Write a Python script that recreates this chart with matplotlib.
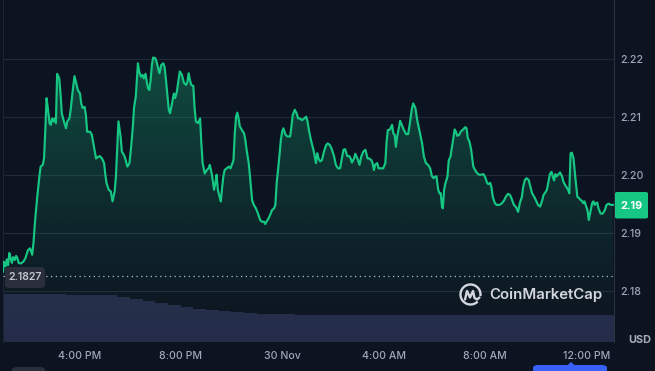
import numpy as np
import matplotlib
matplotlib.use("Agg")
import matplotlib.pyplot as plt
from matplotlib.patches import FancyBboxPatch, Arc, Polygon
from matplotlib.colors import to_rgb

# ---------------- data (minutes since 29 Nov 1:00 PM, price in USD) ----------------
minutes = [0, 2, 6, 9, 12, 15, 18, 21, 24, 28, 31, 34, 37, 42, 48, 53, 59, 64, 69, 72,
           76, 81, 86, 89, 94, 97, 100, 103, 106, 110, 113, 116, 119, 122, 125, 128, 133, 136, 139, 144,
           149, 152, 157, 160, 165, 169, 173, 177, 182, 185, 188, 193, 196, 199, 206, 210, 215, 220, 225,
           229, 234, 239, 242, 245, 250, 255, 259, 264, 267, 270, 273, 278, 281, 286, 289, 294, 299, 303,
           307, 310, 314, 319, 322, 326, 330, 333, 337, 340, 343, 346, 349, 352, 355, 360, 363, 367, 370,
           374, 379, 382, 385, 389, 392, 395, 398, 401, 404, 407, 411, 414, 418, 423, 428, 433, 436, 439,
           442, 445, 450, 453, 456, 461,
           466, 469, 472, 477, 482, 486, 489, 494, 499, 502, 505, 508, 512, 515, 518, 521, 524, 529, 534,
           538, 541, 545, 548, 551, 554, 557, 560, 565, 570, 573, 576, 581, 584, 589, 593, 598, 603, 608,
           612, 617, 620, 623, 628, 633, 636, 641, 644, 647, 652, 657, 660, 663, 668, 672, 679, 682, 685,
           690, 694, 698,
           702, 707, 712, 717, 720, 724, 729, 734, 737, 740, 743, 746, 750, 754, 759, 764, 768, 773, 778,
           783, 787, 792, 797, 802, 805, 809, 814, 819, 822, 825, 830, 833, 838, 843, 847, 852, 857, 862,
           866, 871, 874, 877, 880, 885, 888, 893, 899, 904, 907, 910, 915, 920, 923, 926, 929, 932, 937,
           939, 943, 948, 953, 958, 962, 967, 970, 975, 980, 986, 991, 995, 1000, 1005, 1010, 1014, 1018,
           1022, 1025, 1029, 1032, 1035, 1038, 1040, 1043, 1046, 1051, 1054, 1058, 1063, 1068, 1071, 1074,
           1079, 1082, 1088, 1093, 1096, 1099, 1103, 1107, 1112, 1117, 1122, 1126, 1131, 1136, 1140, 1145,
           1148, 1152, 1155, 1158, 1163, 1167, 1174,
           1180, 1185, 1189, 1194, 1199, 1204, 1208, 1213, 1218, 1222, 1227, 1230, 1234, 1238, 1243, 1246,
           1251, 1256, 1260, 1265, 1270, 1275, 1278, 1282, 1286, 1289, 1293, 1297, 1300, 1303, 1306, 1309,
           1314, 1317, 1322, 1325, 1330, 1333, 1336, 1339, 1342, 1345, 1349, 1353, 1358, 1363, 1366, 1369,
           1372, 1375, 1379, 1382, 1385, 1388, 1393, 1396, 1399, 1402, 1405, 1408, 1413, 1418, 1423, 1427,
           1432, 1437, 1442]

prices = [2.1834, 2.1851, 2.1843, 2.1855, 2.1845, 2.1866, 2.1857, 2.1849, 2.1859, 2.1854, 2.1861,
          2.1857, 2.1849, 2.1848, 2.1851, 2.1857, 2.1871, 2.1874, 2.1863, 2.1883,
          2.1923, 2.1963, 2.1998, 2.2015, 2.2018, 2.2029, 2.2078, 2.2133, 2.2116, 2.2090, 2.2087, 2.2098,
          2.2093, 2.2098, 2.2090, 2.2175, 2.2167, 2.2141, 2.2107, 2.2093,
          2.2081, 2.2093, 2.2098, 2.2113, 2.2147, 2.2171, 2.2159, 2.2147, 2.2141, 2.2124, 2.2116, 2.2118,
          2.2104, 2.2075, 2.2075, 2.2070, 2.2049, 2.2029, 2.2032,
          2.2033, 2.2029, 2.2021, 2.2001, 2.1986, 2.1975, 2.1972, 2.1955, 2.1972, 2.1998, 2.2044, 2.2093,
          2.2067, 2.2041, 2.2035, 2.2029, 2.2015, 2.2021, 2.2049,
          2.2084, 2.2118, 2.2136, 2.2193, 2.2179, 2.2170, 2.2173, 2.2167, 2.2175, 2.2161, 2.2150, 2.2147,
          2.2164, 2.2190, 2.2203, 2.2202, 2.2196, 2.2184, 2.2176,
          2.2190, 2.2193, 2.2187, 2.2167, 2.2136, 2.2113, 2.2107, 2.2118, 2.2130, 2.2141, 2.2133, 2.2144,
          2.2159, 2.2179, 2.2173, 2.2159, 2.2156, 2.2161, 2.2176,
          2.2164, 2.2156, 2.2154, 2.2116, 2.2093, 2.2090,
          2.2098, 2.2055, 2.2021, 2.2003, 2.2009, 2.2012, 2.2018, 2.2001, 2.1975, 2.1986, 2.2001, 2.1975,
          2.1963, 2.1955, 2.1978, 2.1998, 2.2009, 2.2012, 2.2015,
          2.2012, 2.2018, 2.2026, 2.2072, 2.2101, 2.2108, 2.2098, 2.2084, 2.2078, 2.2072, 2.2061, 2.2044,
          2.2021, 2.1998, 2.1957, 2.1949, 2.1943, 2.1934, 2.1923,
          2.1920, 2.1920, 2.1916, 2.1920, 2.1926, 2.1934, 2.1940, 2.1943, 2.1949, 2.1986, 2.2021, 2.2061,
          2.2075, 2.2081, 2.2070, 2.2067, 2.2067, 2.2084, 2.2104,
          2.2113, 2.2107, 2.2098,
          2.2098, 2.2095, 2.2098, 2.2101, 2.2093, 2.2075, 2.2058, 2.2044, 2.2033, 2.2021, 2.2038, 2.2029,
          2.2024, 2.2026, 2.2041, 2.2052, 2.2055, 2.2052, 2.2044,
          2.2032, 2.2018, 2.2012, 2.2012, 2.2032, 2.2044, 2.2045, 2.2033, 2.2033, 2.2029, 2.2022, 2.2029,
          2.2037, 2.2029, 2.2018, 2.2032, 2.2041, 2.2044, 2.2029,
          2.2029, 2.2026, 2.2021, 2.2009, 2.2018, 2.2021, 2.2012, 2.2012, 2.2012, 2.2021, 2.2058, 2.2078,
          2.2079, 2.2087, 2.2072, 2.2070, 2.2049, 2.2067, 2.2085,
          2.2094, 2.2087, 2.2078, 2.2071, 2.2071, 2.2090, 2.2116, 2.2124, 2.2116, 2.2093, 2.2072, 2.2055,
          2.2033, 2.2021, 2.2018, 2.2012, 2.1999, 2.1995,
          2.1998, 2.1998, 2.1975, 2.1969, 2.1969, 2.1946, 2.1943, 2.1975, 2.1986, 2.1998, 2.2026, 2.2032,
          2.2055, 2.2079, 2.2075, 2.2068,
          2.2070, 2.2075, 2.2079, 2.2083, 2.2081, 2.2064, 2.2058, 2.2044, 2.2015, 2.2008, 2.2003, 2.2001,
          2.2001, 2.2002, 2.1997, 2.1986,
          2.1985, 2.1987, 2.1979, 2.1963, 2.1952, 2.1949, 2.1949,
          2.1952, 2.1957, 2.1963, 2.1968, 2.1966, 2.1957, 2.1949, 2.1945, 2.1937, 2.1952, 2.1963, 2.1980,
          2.1992, 2.1995, 2.1992, 2.1983,
          2.1969, 2.1963, 2.1957, 2.1949, 2.1946, 2.1957, 2.1966, 2.1970, 2.1975, 2.1986, 2.2002, 2.2006,
          2.1998, 2.1991, 2.2002, 2.1998,
          2.2002, 2.2005, 2.1998, 2.1989, 2.1982, 2.1979, 2.1975, 2.1969, 2.2038, 2.2039, 2.2029, 2.1998,
          2.1963, 2.1960, 2.1957, 2.1956,
          2.1952, 2.1955, 2.1946, 2.1940, 2.1923, 2.1934, 2.1952, 2.1955, 2.1949, 2.1952, 2.1953, 2.1943,
          2.1934, 2.1934, 2.1940, 2.1949,
          2.1951, 2.1949, 2.1949]

# volume read every half hour (arbitrary units, millions)
volume_minutes = [0, 30, 60, 90, 120, 150, 180, 210, 240, 270, 300, 330, 360, 390, 420, 450, 480,
                  510, 540, 570, 600, 630, 660, 690, 720, 750, 780, 810, 840, 870, 900, 930, 960,
                  990, 1020, 1050, 1080, 1110, 1140, 1170, 1200, 1230, 1260, 1290, 1320, 1350,
                  1380, 1410, 1440]
volume_m = [97, 96.5, 96, 96, 95.5, 95, 95, 95, 94, 91, 87, 83, 79, 74, 70, 67, 64,
            62, 60, 58.5, 57, 56, 55.5, 55, 55, 54.5, 54.5, 54, 54, 54, 54, 54, 54,
            54, 54, 54, 54, 54, 54, 54, 54, 54, 54, 54, 54, 53.5,
            53.5, 54, 54]

y_ticks = [2.18, 2.19, 2.20, 2.21, 2.22]
x_tick_minutes = [180, 420, 660, 900, 1140, 1380]
x_tick_labels = ["4:00 PM", "8:00 PM", "30 Nov", "4:00 AM", "8:00 AM", "12:00 PM"]
open_price = 2.1827
open_label = "2.1827"
last_label = "2.19"

# ---------------- styling ----------------
BG = "#0d1421"
GRID = "#222a38"
GREEN = "#16c784"
TICK = "#a1a7bb"
FONT = ["Inter", "DejaVu Sans"]
plt.rcParams["font.family"] = FONT

W, H = 655, 371
fig = plt.figure(figsize=(W / 100, H / 100), dpi=100, facecolor=BG)


def fx(px):
    return px / W


def fy(py):
    return 1 - py / H


L, R, T, B = 2.5, 614, 0, 342
ylo, yhi = 2.171259, 2.230224
xlo, xhi = -1.2, 1444.7

# volume axes (behind)
axv = fig.add_axes([fx(L), fy(B), fx(R) - fx(L), (B - 293.5) / H], zorder=0)
axv.set_facecolor(BG)
axv.bar(volume_minutes, volume_m, width=30, align="edge",
        color="#252c49", edgecolor="none")
axv.set_xlim(xlo, xhi)
axv.set_ylim(0, 97)
axv.axis("off")

# main axes
ax = fig.add_axes([fx(L), fy(B), fx(R) - fx(L), fy(T) - fy(B)], zorder=1)
ax.set_facecolor("none")
ax.set_xlim(xlo, xhi)
ax.set_ylim(ylo, yhi)

for v in y_ticks:
    ax.axhline(v, color=GRID, lw=0.8, zorder=1)

# gradient fill under the line
x = np.array(minutes, dtype=float)
y = np.array(prices)
poly_verts = np.vstack([np.column_stack([x, y]), [[x[-1], ylo], [x[0], ylo]]])
poly = Polygon(poly_verts, closed=True, facecolor="none", edgecolor="none")
ax.add_patch(poly)
g = np.linspace(0, 1, 256).reshape(-1, 1)
rgba = np.zeros((256, 1, 4))
rgba[..., :3] = to_rgb(GREEN)
top_p = max(prices)
alpha = np.clip(g / ((top_p - ylo) / (yhi - ylo)), 0, 1) ** 1.25 * 0.32
rgba[..., 3] = alpha
im = ax.imshow(rgba, extent=[xlo, xhi, ylo, yhi], origin="lower", aspect="auto", zorder=2,
               interpolation="bilinear")
im.set_clip_path(poly)

ax.plot(x, y, color=GREEN, lw=1.55, zorder=4, solid_joinstyle="round")

# open price dotted line
ax.axhline(open_price, color="#b8bdc9", lw=0.9, linestyle=(0, (1, 2.8)), zorder=3)

# spines
for s in ["top", "bottom"]:
    ax.spines[s].set_visible(False)
ax.spines["right"].set_color("#2a3140")
ax.spines["right"].set_linewidth(0.8)
ax.spines["left"].set_color("#1c2331")
ax.spines["left"].set_linewidth(0.8)

ax.yaxis.tick_right()
ax.set_yticks(y_ticks)
ax.set_yticklabels([f"{v:.2f}" for v in y_ticks])
ax.tick_params(axis="y", length=0, pad=4.5, labelsize=7.6, labelcolor=TICK)
ax.set_xticks(x_tick_minutes)
ax.set_xticklabels(x_tick_labels)
ax.tick_params(axis="x", length=0, pad=6.5, labelsize=7.6, labelcolor=TICK)
for lab in ax.get_xticklabels() + ax.get_yticklabels():
    lab.set_fontweight("medium")

# current price box
fig.patches.append(FancyBboxPatch((fx(615), fy(218.5)), fx(648) - fx(615), (218.5 - 192) / H,
                                  boxstyle="round,pad=0,rounding_size=0.004",
                                  transform=fig.transFigure, facecolor=GREEN, edgecolor="none",
                                  zorder=5))
fig.text(fx(631.5), fy(205.5), last_label, color="white", fontsize=7.8, fontweight="bold",
         ha="center", va="center", zorder=6)

# open price label box
fig.patches.append(FancyBboxPatch((fx(5), fy(288)), fx(45) - fx(5), (288 - 267) / H,
                                  boxstyle="round,pad=0,rounding_size=0.008",
                                  transform=fig.transFigure, facecolor="#2a2f3b", edgecolor="none",
                                  zorder=5))
fig.text(fx(25), fy(277.5), open_label, color="#c3c7d0", fontsize=7.6, fontweight="semibold",
         ha="center", va="center", zorder=6)

# USD
fig.text(fx(639.5), fy(340), "USD", color="#a8adb9", fontsize=7.8, fontweight="bold",
         ha="center", va="center")

# watermark
WM = "#d3d6dc"
cx, cy, r = 470.5, 294.5, 10
ring = Arc((fx(cx), fy(cy)), 2 * r / W, 2 * r / H, theta1=-15, theta2=300,
           transform=fig.transFigure, color=WM, lw=1.7, zorder=5)
fig.patches.append(ring)
mx = [cx - 5.5, cx - 3.5, cx - 0.5, cx + 2.5, cx + 4.0, cx + 6.5, cx + 9.0]
my = [cy + 5.0, cy - 3.5, cy + 3.0, cy - 3.5, cy + 3.5, cy + 5.0, cy + 3.0]
fig.lines.append(plt.Line2D([fx(v) for v in mx], [fy(v) for v in my], transform=fig.transFigure,
                            color=WM, lw=1.7, solid_joinstyle="round", solid_capstyle="round",
                            zorder=5))
fig.text(fx(489), fy(295), "CoinMarketCap", color=WM, fontsize=10.8, fontweight="semibold",
         ha="left", va="center", zorder=5)

# partially visible UI tabs at the bottom edge
fig.patches.append(FancyBboxPatch((fx(533), fy(373)), fx(607) - fx(533), 8 / H,
                                  boxstyle="round,pad=0,rounding_size=0.008",
                                  transform=fig.transFigure, facecolor="#3861fb", edgecolor="none"))
fig.patches.append(Polygon([[fx(566), fy(366.5)], [fx(576), fy(366.5)], [fx(571), fy(362)]],
                           closed=True, transform=fig.transFigure, facecolor="#3861fb",
                           edgecolor="none"))
fig.patches.append(FancyBboxPatch((fx(12), fy(374)), fx(45) - fx(12), 7 / H,
                                  boxstyle="round,pad=0,rounding_size=0.008",
                                  transform=fig.transFigure, facecolor="#2a2f3b", edgecolor="none"))

fig.savefig("out.png", dpi=100, facecolor=BG)
